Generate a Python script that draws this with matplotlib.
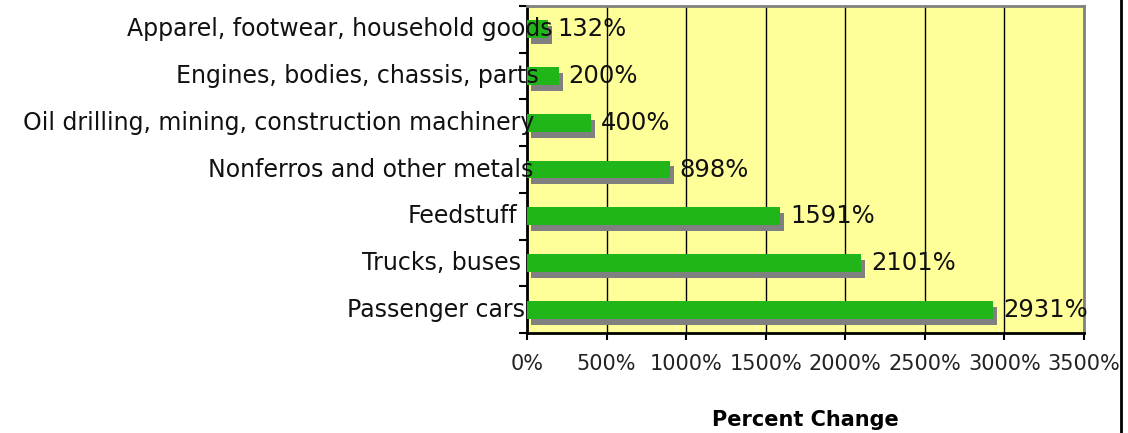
import numpy as np
import matplotlib
matplotlib.use('Agg')
import matplotlib.pyplot as plt
import matplotlib.transforms as mtransforms
from matplotlib.lines import Line2D

# data (bottom to top)
categories = ['Passenger cars', 'Trucks, buses', 'Feedstuff',
              'Nonferros and other metals',
              'Oil drilling, mining, construction machinery',
              'Engines, bodies, chassis, parts',
              'Apparel, footwear, household goods']
values = [2931, 2101, 1591, 898, 400, 200, 132]
xticks = [0, 500, 1000, 1500, 2000, 2500, 3000, 3500]

# how far (px) each category label's right edge sits from the axis line
label_shift_px = [-2, -6, -10, 6, 7, 12, 26]

green = '#20B518'
shadow = '#808080'
yellow = '#FFFF99'

fig = plt.figure(figsize=(11.28, 4.33), dpi=100)
ax = fig.add_axes([527 / 1128, 1 - 333 / 433, (1084 - 527) / 1128, (333 - 6) / 433])
ax.set_facecolor(yellow)

y = np.arange(len(categories))
h = 0.385
# shadow bars shifted right and down
ax.barh(y - 0.128, values, left=25, height=h, color=shadow, zorder=2)
ax.barh(y, values, height=h, color=green, zorder=3)

for yi, v in zip(y, values):
    ax.annotate(f'{v}%', (v, yi), xytext=(7, 0), textcoords='offset points',
                ha='left', va='center', fontsize=17.5, color='#111111', zorder=4)

ax.set_xlim(0, 3500)
ax.set_ylim(-0.5, len(categories) - 0.5)
ax.set_xticks(xticks)
ax.set_xticklabels([f'{t}%' for t in xticks], fontsize=15, color='#222222')
ax.tick_params(axis='x', length=5, width=1.5, pad=10)

# category ticks at boundaries, labels drawn separately
ax.set_yticks(np.arange(-0.5, len(categories), 1.0))
ax.set_yticklabels([])
ax.tick_params(axis='y', length=6, width=1.5)

blend = mtransforms.blended_transform_factory(ax.transAxes, ax.transData)
for yi, name, dx in zip(y, categories, label_shift_px):
    tr = blend + mtransforms.ScaledTranslation(dx / 100, 0, fig.dpi_scale_trans)
    ax.text(0, yi, name, transform=tr, ha='right', va='center',
            fontsize=17, color='#111111', zorder=5, clip_on=False)

ax.set_axisbelow(True)
ax.grid(axis='x', color='black', linewidth=1)
ax.grid(axis='y', visible=False)

for s in ['left', 'bottom']:
    ax.spines[s].set_linewidth(2)
    ax.spines[s].set_color('black')
for s in ['top', 'right']:
    ax.spines[s].set_linewidth(2)
    ax.spines[s].set_color(shadow)

ax.set_xlabel('Percent Change', fontsize=15, fontweight='bold', labelpad=26)

# outer frame line on the right
fig.add_artist(Line2D([1121 / 1128, 1121 / 1128], [0, 1], color='black',
                      linewidth=2, transform=fig.transFigure))

fig.savefig('out.png', dpi=100)
